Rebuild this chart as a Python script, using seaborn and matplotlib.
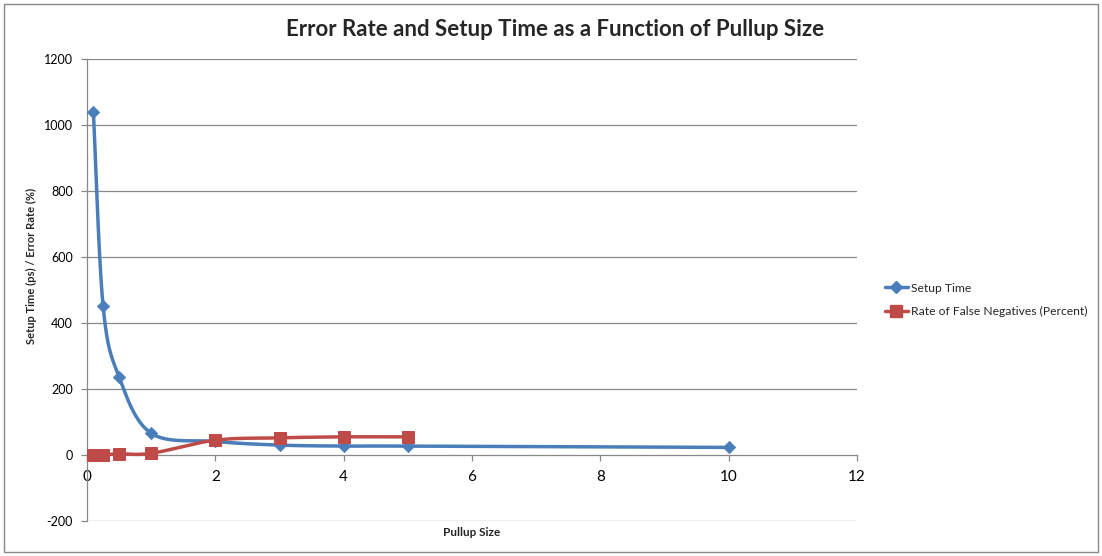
import numpy as np
import pandas as pd
import matplotlib
matplotlib.use("Agg")
import matplotlib.pyplot as plt
import seaborn as sns
from matplotlib.patches import Rectangle
from matplotlib.lines import Line2D

pullup_size = [0.1, 0.25, 0.5, 1, 2, 3, 4, 5, 10]
setup_time = [1039, 453, 236, 66, 41, 30, 27, 27, 23]
fn_size = [0.1, 0.25, 0.5, 1, 2, 3, 4, 5]
false_neg = [0, 0, 4, 5, 45, 52, 55, 55]
x_ticks = [0, 2, 4, 6, 8, 10, 12]
y_ticks = [-200, 0, 200, 400, 600, 800, 1000, 1200]

sns.set_theme(style="white")
plt.rcParams['font.family'] = ['Lato', 'DejaVu Sans']

BLUE = "#4A7EBB"
RED = "#BE4B48"


def smooth(xs, ys, n=40, tension=1/6):
    # Excel-like smoothed line rendering (cubic Bezier through the points)
    xs = np.asarray(xs, float)
    ys = np.asarray(ys, float)
    px, py = [], []
    m = len(xs)
    for i in range(m - 1):
        x0, y0 = (xs[i - 1], ys[i - 1]) if i > 0 else (xs[i], ys[i])
        x1, y1 = xs[i], ys[i]
        x2, y2 = xs[i + 1], ys[i + 1]
        x3, y3 = (xs[i + 2], ys[i + 2]) if i + 2 < m else (x2, y2)
        c1x = x1 + (x2 - x0) * tension
        c1y = y1 + (y2 - y0) * tension
        c2x = x2 - (x3 - x1) * tension
        c2y = y2 - (y3 - y1) * tension
        t = np.linspace(0, 1, n)
        bx = (1 - t) ** 3 * x1 + 3 * (1 - t) ** 2 * t * c1x + 3 * (1 - t) * t ** 2 * c2x + t ** 3 * x2
        by = (1 - t) ** 3 * y1 + 3 * (1 - t) ** 2 * t * c1y + 3 * (1 - t) * t ** 2 * c2y + t ** 3 * y2
        px.extend(bx)
        py.extend(by)
    return np.array(px), np.array(py)


fig = plt.figure(figsize=(11.02, 5.56), dpi=100)
ax = fig.add_axes([87 / 1102, 1 - 521 / 556, (857 - 87) / 1102, (521 - 59) / 556])

df_setup = pd.DataFrame({"x": pullup_size, "y": setup_time})
df_fn = pd.DataFrame({"x": fn_size, "y": false_neg})

sx, sy = smooth(pullup_size, setup_time)
fx, fy = smooth(fn_size, false_neg)
sns.lineplot(x=sx, y=sy, ax=ax, color=BLUE, lw=2.5, sort=False, zorder=3)
sns.lineplot(x=fx, y=fy, ax=ax, color=RED, lw=2.5, sort=False, zorder=3)
sns.scatterplot(data=df_setup, x="x", y="y", ax=ax, marker="D", s=40, color=BLUE,
                edgecolor=BLUE, zorder=4)
sns.scatterplot(data=df_fn, x="x", y="y", ax=ax, marker="s", s=85, color=RED,
                edgecolor=RED, zorder=4)

ax.set_xlim(0, 12)
ax.set_ylim(-200, 1200)
ax.set_xticks(x_ticks)
ax.set_yticks(y_ticks)
ax.set_xticklabels([str(v) for v in x_ticks], fontsize=9)
ax.set_yticklabels([str(v) for v in y_ticks], fontsize=9)

for yv in y_ticks:
    if yv != 0:
        ax.axhline(yv, color="#888888", lw=0.9, zorder=1)

for s in ["top", "right"]:
    ax.spines[s].set_visible(False)
ax.spines["bottom"].set_position(("data", 0))
ax.spines["bottom"].set_color("#888888")
ax.spines["left"].set_color("#888888")
ax.spines["bottom"].set_linewidth(0.9)
ax.spines["left"].set_linewidth(0.9)
ax.tick_params(axis="both", which="both", direction="out", length=4, width=0.9,
               color="#888888", labelcolor="black", bottom=True, left=True)
ax.tick_params(axis="x", pad=7)
ax.tick_params(axis="y", pad=6)

ax.set_xlabel("")
ax.set_ylabel("")
fig.text(472 / 1102, 1 - 532 / 556, "Pullup Size", fontsize=8.5, fontweight="bold",
         ha="center", va="center")
fig.text(31 / 1102, 1 - 266 / 556, "Setup Time (ps) / Error Rate (%)", fontsize=8,
         fontweight="bold", ha="center", va="center", rotation=90)
fig.text(555 / 1102, 1 - 29 / 556, "Error Rate and Setup Time as a Function of Pullup Size",
         fontsize=16, fontweight="bold", ha="center", va="center")

handles = [
    Line2D([0], [0], color=BLUE, lw=2.5, marker="D", markersize=6),
    Line2D([0], [0], color=RED, lw=2.5, marker="s", markersize=8),
]
leg = fig.legend(handles, ["Setup Time", "Rate of False Negatives (Percent)"],
                 loc="center left", bbox_to_anchor=(874 / 1102, 1 - 300 / 556),
                 frameon=False, fontsize=8.7, handlelength=1.9, labelspacing=1.05,
                 handletextpad=0.3)

fig.patches.append(Rectangle((4 / 1102, 4 / 556), 1 - 8 / 1102, 1 - 8 / 556,
                             transform=fig.transFigure, fill=False,
                             edgecolor="#888888", lw=1))

fig.savefig("out.png", dpi=100, facecolor="white")
